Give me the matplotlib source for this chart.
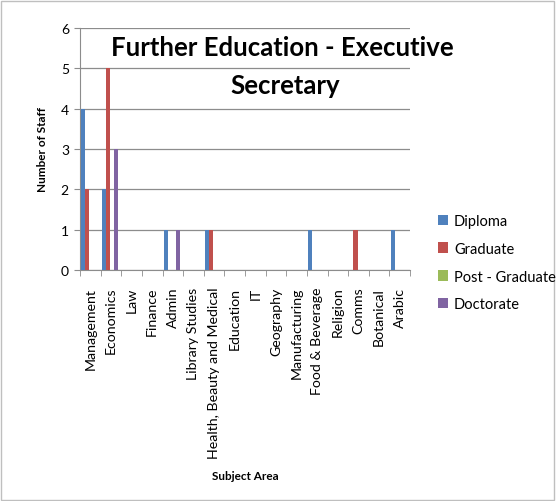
import numpy as np
import matplotlib
matplotlib.use("Agg")
import matplotlib.pyplot as plt
from matplotlib.patches import Rectangle

# ----------------------------
# Data
# ----------------------------
subjects = ["Management", "Economics", "Law", "Finance", "Admin", "Library Studies",
            "Health, Beauty and Medical", "Education", "IT", "Geography",
            "Manufacturing", "Food & Beverage", "Religion", "Comms", "Botanical", "Arabic"]
diploma       = [4, 2, 0, 0, 1, 0, 1, 0, 0, 0, 0, 1, 0, 0, 0, 1]
graduate      = [2, 5, 0, 0, 0, 0, 1, 0, 0, 0, 0, 0, 0, 1, 0, 0]
post_graduate = [0, 0, 0, 0, 0, 0, 0, 0, 0, 0, 0, 0, 0, 0, 0, 0]
doctorate     = [0, 3, 0, 0, 1, 0, 0, 0, 0, 0, 0, 0, 0, 0, 0, 0]
series_names = ["Diploma", "Graduate", "Post - Graduate", "Doctorate"]
colors = ["#4F81BD", "#C0504D", "#9BBB59", "#8064A2"]

plt.rcParams['font.family'] = ['Lato', 'DejaVu Sans']

fig = plt.figure(figsize=(5.56, 5.02), dpi=100)
W, H = 556, 502
ax = fig.add_axes([80 / W, 1 - 271 / H, (410 - 80) / W, (271 - 29) / H])

x = np.arange(len(subjects))
bw = 0.195
start = -0.5 + 0.065
for k, (vals, name, c) in enumerate(zip([diploma, graduate, post_graduate, doctorate],
                                         series_names, colors)):
    ax.bar(x + start + bw * k + bw / 2, vals, width=bw, color=c, label=name, zorder=3)

ax.set_xlim(-0.5, len(subjects) - 0.5)
ax.set_ylim(0, 6)
ax.set_yticks(range(7))
ax.yaxis.grid(True, color="#8C8C8C", linewidth=0.9, zorder=0)
ax.set_xticks(x)
ax.set_xticklabels(subjects, rotation=90, fontsize=10.2)
ax.set_xticks(np.arange(-0.5, len(subjects)), minor=True)
ax.tick_params(axis="x", which="major", length=0, pad=12)
ax.tick_params(axis="x", which="minor", length=4, color="#8C8C8C", direction="out")
ax.tick_params(axis="y", length=4, color="#8C8C8C", labelsize=10, pad=4)

for side in ["top", "right"]:
    ax.spines[side].set_visible(False)
for side in ["left", "bottom"]:
    ax.spines[side].set_color("#8C8C8C")

fig.text(282 / W, 1 - 48 / H, "Further Education - Executive", fontsize=18.5,
         fontweight="bold", ha="center", va="center")
fig.text(285 / W, 1 - 86 / H, "Secretary", fontsize=18.5,
         fontweight="bold", ha="center", va="center")

fig.text(42 / W, 1 - 150 / H, "Number of Staff", rotation=90, fontsize=8.5,
         fontweight="bold", ha="center", va="center")
fig.text(245 / W, 1 - 477 / H, "Subject Area", fontsize=8.5,
         fontweight="bold", ha="center", va="center")

fig.legend(loc="upper left", bbox_to_anchor=(432 / W, 1 - 209 / H), frameon=False,
           fontsize=10.5, handlelength=0.7, handleheight=0.7, handletextpad=0.4,
           labelspacing=0.95, borderaxespad=0)

fig.patches.append(Rectangle((1 / W, 1 / H), 1 - 3 / W, 1 - 3 / H, transform=fig.transFigure,
                             fill=False, edgecolor="#BFBFBF", linewidth=1))

fig.savefig("out.png", dpi=100)
